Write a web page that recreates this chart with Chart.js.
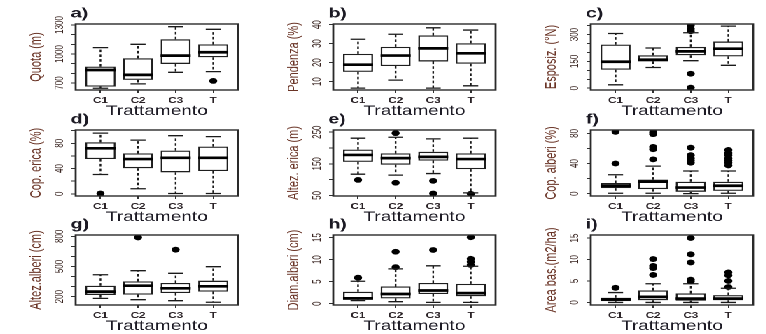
<!DOCTYPE html>
<html><head><meta charset="utf-8">
<script src="https://cdn.jsdelivr.net/npm/chart.js@4/dist/chart.umd.min.js"></script>
<style>
html,body{margin:0;padding:0;background:#fff;overflow:hidden;width:766px;height:334px;}
#wrap{position:absolute;left:0;top:0;width:548px;height:334px;transform:scaleX(1.4);transform-origin:0 0;}
#wrap canvas{position:absolute;}
</style></head><body><div id="wrap"></div>
<script>
// ---------- DATA ----------
const categories = ['C1', 'C2', 'C3', 'T'];
const xAxisTitle = 'Trattamento';
const panelLetters = ['a)', 'b)', 'c)', 'd)', 'e)', 'f)', 'g)', 'h)', 'i)'];
const yTitles = ['Quota (m)', 'Pendenza (%)', 'Esposiz. (°N)', 'Cop. erica (%)', 'Altez. erica (m)',
  'Cop. alberi (%)', 'Altez.alberi (cm)', 'Diam.alberi (cm)', 'Area bas.(m2/ha)'];

// a) Quota
const aRange = [628, 1310];
const aTicks = [700, 800, 900, 1000, 1100, 1200, 1300];
const aLabels = [700, 1000, 1300];
const aLo = [646, 691, 811, 818];
const aQ1 = [663, 732, 897, 966];
const aMed = [835, 784, 983, 1018];
const aQ3 = [870, 956, 1152, 1100];
const aHi = [1066, 1100, 1282, 1255];
const aOut = [[], [], [], [722]];

// b) Pendenza
const bRange = [5.6, 40.3];
const bTicks = [10, 20, 30, 40];
const bLabels = [10, 20, 30, 40];
const bLo = [6.6, 10.8, 6.6, 7.8];
const bQ1 = [15.1, 18.2, 20.6, 19.4];
const bMed = [18.9, 23.7, 27.5, 24.9];
const bQ3 = [24.6, 28.3, 34.3, 30.2];
const bHi = [32.3, 34.9, 38.3, 37.1];
const bOut = [[], [], [], []];

// c) Esposizione
const cRange = [-10, 359];
const cTicks = [0, 50, 100, 150, 200, 250, 300, 350];
const cLabels = [0, 150, 300];
const cLo = [19, 116, 154, 128];
const cQ1 = [103, 150, 184, 178];
const cMed = [148, 159, 206, 221];
const cQ3 = [244, 184, 231, 261];
const cHi = [306, 225, 310, 347];
const cOut = [[], [], [351, 332, 319, 81, 3], []];

// d) Copertura erica
const dRange = [-3.5, 101];
const dTicks = [0, 20, 40, 60, 80, 100];
const dLabels = [0, 40, 80];
const dLo = [30.5, 8, 0.5, 0.5];
const dQ1 = [55, 40.5, 34, 36];
const dMed = [72, 55, 57, 57];
const dQ3 = [81.6, 64, 68.4, 74.7];
const dHi = [96, 85, 92, 90.5];
const dOut = [[0.5], [], [], []];

// e) Altezza erica
const eRange = [48, 257];
const eTicks = [50, 100, 150, 200, 250];
const eLabels = [50, 150, 250];
const eLo = [117, 114, 119, 58];
const eQ1 = [156, 147, 160, 133];
const eMed = [178, 168, 172, 165];
const eQ3 = [195, 183, 188, 183];
const eHi = [231, 234, 229, 231];
const eOut = [[99], [247, 90], [96, 56], [55]];

// f) Copertura alberi
const fRange = [-3.2, 84.5];
const fTicks = [0, 20, 40, 60, 80];
const fLabels = [0, 40, 80];
const fLo = [0.5, 0.5, 0, 0.5];
const fQ1 = [7.2, 6, 2.3, 3.6];
const fMed = [10.4, 15.8, 8, 10.4];
const fQ3 = [14, 18.5, 15.8, 15.8];
const fHi = [25, 36.5, 30, 30];
const fOut = [[82, 40], [81.5, 79, 62, 59, 45.5], [61, 51, 47, 44, 41], [58, 54, 51, 47, 44, 41, 37.4]];

// g) Altezza alberi
const gRange = [117, 813];
const gTicks = [200, 300, 400, 500, 600, 700, 800];
const gLabels = [200, 500, 800];
const gLo = [183, 170, 160, 144];
const gQ1 = [217, 220, 236, 250];
const gMed = [250, 309, 283, 303];
const gQ3 = [309, 352, 336, 359];
const gHi = [418, 458, 432, 498];
const gOut = [[], [789], [667], []];

// h) Diametro alberi
const hRange = [-0.3, 15.6];
const hTicks = [0, 5, 10, 15];
const hLabels = [0, 5, 10, 15];
const hLo = [0.7, 0.45, 0.3, 0.3];
const hQ1 = [0.9, 1.2, 2.2, 1.7];
const hMed = [1.2, 2.2, 3.0, 2.4];
const hQ3 = [2.7, 3.9, 4.7, 4.5];
const hHi = [5.1, 7.9, 8.6, 8.5];
const hOut = [[5.9], [11.8, 8.3], [12.2], [15.1, 10.2, 9.5, 8.8]];

// i) Area basimetrica
const iRange = [-0.6, 15.7];
const iTicks = [0, 5, 10, 15];
const iLabels = [0, 5, 10, 15];
const iLo = [0, 0, 0, 0];
const iQ1 = [0.3, 0.5, 0.4, 0.5];
const iMed = [0.7, 1.3, 0.9, 0.9];
const iQ3 = [1.1, 2.8, 2.1, 1.7];
const iHi = [2.3, 4.35, 4.35, 3.3];
const iOut = [[3.4], [10.1, 8.5, 8.0, 6.4], [15.0, 11.2, 9.3, 5.3, 4.9], [7.0, 6.3, 5.0, 3.6]];

// ---------- LAYOUT ----------
const S = 1.4;                       // horizontal stretch of the figure
const colLeft = [75, 333, 591];      // plot-frame left edges (px, final image)
const frameW = 162;
const rowBox = [[24, 90], [129.5, 195], [234.5, 304]];
const padL = 36, padR = 4, padT = 26, padB = 32;

const FONT = "'Liberation Sans', Arial, Helvetica, sans-serif";
Chart.defaults.font.family = FONT;

const panels = [
  [aRange, aTicks, aLabels, aLo, aQ1, aMed, aQ3, aHi, aOut],
  [bRange, bTicks, bLabels, bLo, bQ1, bMed, bQ3, bHi, bOut],
  [cRange, cTicks, cLabels, cLo, cQ1, cMed, cQ3, cHi, cOut],
  [dRange, dTicks, dLabels, dLo, dQ1, dMed, dQ3, dHi, dOut],
  [eRange, eTicks, eLabels, eLo, eQ1, eMed, eQ3, eHi, eOut],
  [fRange, fTicks, fLabels, fLo, fQ1, fMed, fQ3, fHi, fOut],
  [gRange, gTicks, gLabels, gLo, gQ1, gMed, gQ3, gHi, gOut],
  [hRange, hTicks, hLabels, hLo, hQ1, hMed, hQ3, hHi, hOut],
  [iRange, iTicks, iLabels, iLo, iQ1, iMed, iQ3, iHi, iOut]
];

const boxPlugin = {
  id: 'boxExtras',
  afterDatasetsDraw(chart) {
    const ds = chart.data.datasets[0];
    const st = ds.boxStats;
    const x = chart.scales.x, y = chart.scales.y;
    const meta = chart.getDatasetMeta(0);
    const ctx = chart.ctx;
    ctx.save();
    st.med.forEach((m, i) => {
      const cx = x.getPixelForValue(i + 1);
      const w = meta.data[i].width;
      const yq1 = y.getPixelForValue(st.q1[i]), yq3 = y.getPixelForValue(st.q3[i]);
      const ylo = y.getPixelForValue(st.lo[i]), yhi = y.getPixelForValue(st.hi[i]);
      ctx.strokeStyle = '#1a1a1a';
      ctx.lineWidth = 1.2;
      ctx.setLineDash([2.6, 2.2]);
      ctx.beginPath();
      ctx.moveTo(cx, yq3); ctx.lineTo(cx, yhi);
      ctx.moveTo(cx, yq1); ctx.lineTo(cx, ylo);
      ctx.stroke();
      ctx.setLineDash([]);
      ctx.lineWidth = 1.3;
      ctx.beginPath();
      ctx.moveTo(cx - w / 4, yhi); ctx.lineTo(cx + w / 4, yhi);
      ctx.moveTo(cx - w / 4, ylo); ctx.lineTo(cx + w / 4, ylo);
      ctx.stroke();
      ctx.strokeStyle = '#000';
      ctx.lineWidth = 2.7;
      const ym = y.getPixelForValue(m);
      ctx.beginPath();
      ctx.moveTo(cx - w / 2, ym); ctx.lineTo(cx + w / 2, ym);
      ctx.stroke();
    });
    ctx.restore();
  },
  afterDraw(chart) {
    const ds = chart.data.datasets[0];
    const ctx = chart.ctx, a = chart.chartArea, y = chart.scales.y;
    ctx.save();
    ctx.strokeStyle = '#2a2a2a';
    ctx.lineWidth = 1.4;
    ctx.strokeRect(a.left, a.top, a.right - a.left, a.bottom - a.top);
    ctx.fillStyle = '#3a2622';
    ctx.font = '8px ' + FONT;
    ctx.textAlign = 'center';
    ctx.textBaseline = 'middle';
    ds.yLabels.forEach(v => {
      const py = y.getPixelForValue(v);
      ctx.save();
      ctx.translate(a.left - 11.4, py);
      ctx.rotate(-Math.PI / 2);
      ctx.fillText(String(v), 0, 0);
      ctx.restore();
    });
    ctx.fillStyle = '#1c1a24';
    ctx.font = 'bold 14px ' + FONT;
    ctx.textAlign = 'left';
    ctx.textBaseline = 'alphabetic';
    ctx.fillText(ds.panelLetter, a.left - 3.5, a.top - 6.5);
    ctx.restore();
  }
};

const wrap = document.getElementById('wrap');
panels.forEach((p, k) => {
  const [range, ticks, labels, lo, q1, med, q3, hi, out] = p;
  const col = k % 3, row = Math.floor(k / 3);
  const left = colLeft[col] / S, fw = frameW / S;
  const [top, bottom] = rowBox[row];
  const W = padL + fw + padR, H = padT + (bottom - top) + padB;
  const cv = document.createElement('canvas');
  cv.width = Math.round(W); cv.height = Math.round(H);
  cv.style.left = (left - padL) + 'px';
  cv.style.top = (top - padT) + 'px';
  wrap.appendChild(cv);
  const outPts = [];
  out.forEach((arr, i) => arr.forEach(v => outPts.push({ x: i + 1, y: v })));
  new Chart(cv, {
    type: 'bar',
    data: {
      datasets: [
        {
          type: 'bar',
          data: categories.map((c, i) => ({ x: i + 1, y: [q1[i], q3[i]] })),
          backgroundColor: '#ffffff',
          borderColor: '#1e1e1e',
          borderWidth: 1.3,
          borderSkipped: false,
          barPercentage: 0.8,
          categoryPercentage: 1,
          order: 2,
          boxStats: { lo, q1, med, q3, hi },
          yLabels: labels,
          panelLetter: panelLetters[k]
        },
        {
          type: 'scatter',
          data: outPts,
          pointRadius: 2.9,
          pointBackgroundColor: '#000',
          pointBorderWidth: 0,
          order: 1
        }
      ]
    },
    options: {
      responsive: false,
      animation: false,
      devicePixelRatio: 2,
      layout: { padding: { top: padT, right: padR, left: 0, bottom: 0 } },
      plugins: { legend: { display: false }, tooltip: { enabled: false }, title: { display: false } },
      scales: {
        x: {
          type: 'linear', min: 0.34, max: 4.66, offset: false,
          afterBuildTicks: s => { s.ticks = categories.map((c, i) => ({ value: i + 1 })); },
          afterFit: s => { s.height = padB; },
          grid: { display: true, offset: false, drawOnChartArea: false, drawTicks: true, tickLength: 3, color: '#333', lineWidth: 1 },
          border: { display: false },
          ticks: { callback: v => categories[v - 1], autoSkip: false, maxRotation: 0, padding: 2.5, color: '#2a2226', font: { size: 8.4, weight: 'bold' } },
          title: { display: true, text: xAxisTitle, color: '#1c1a24', font: { size: 13.6 }, padding: { top: 0, bottom: 2.5 } }
        },
        y: {
          type: 'linear', min: range[0], max: range[1],
          afterBuildTicks: s => { s.ticks = ticks.map(v => ({ value: v })); },
          afterFit: s => { s.width = padL; },
          grid: { display: true, drawOnChartArea: false, drawTicks: true, tickLength: 3, color: '#333', lineWidth: 1 },
          border: { display: false },
          ticks: { display: false },
          title: { display: true, text: yTitles[k], color: '#6a3426', font: { size: 11 }, padding: { top: 1.5, bottom: 0 } }
        }
      }
    },
    plugins: [boxPlugin]
  });
});
</script>
</body></html>
